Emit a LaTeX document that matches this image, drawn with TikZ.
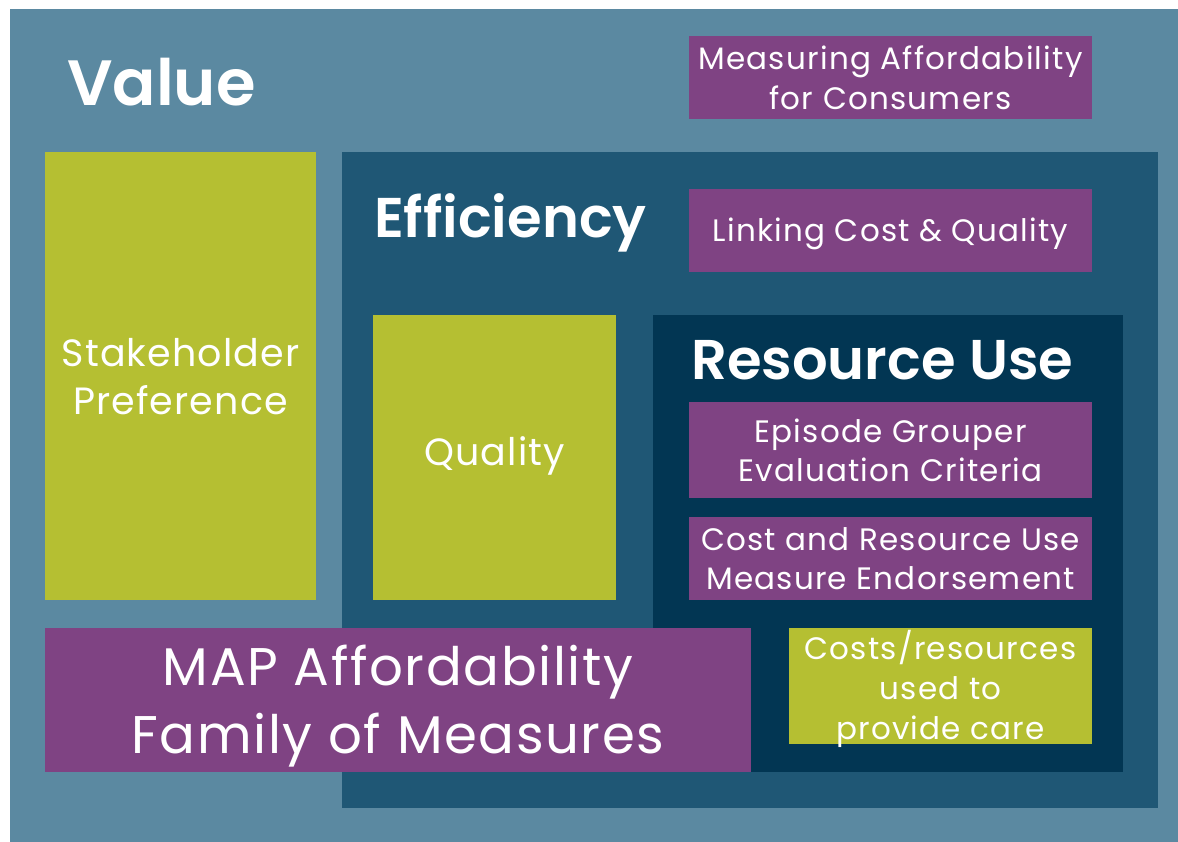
\documentclass[tikz,border=0pt]{standalone}
\usepackage{fontspec}
\setmainfont{Poppins}[BoldFont={Poppins SemiBold}]
\definecolor{outerc}{HTML}{5B89A1}
\definecolor{effc}{HTML}{1F5775}
\definecolor{resc}{HTML}{023653}
\definecolor{greenc}{HTML}{B5BF32}
\definecolor{purplec}{HTML}{7F4383}
\newcommand{\fsz}[3]{\fontsize{#1}{#2}\selectfont\addfontfeature{LetterSpace=#3}}
\tikzset{
  box/.style={inner sep=0pt, outer sep=0pt},
  pbox/.style={box, fill=purplec},
  gbox/.style={box, fill=greenc},
  txt/.style={inner sep=0pt, text=white, align=center},
  title/.style={inner sep=0pt, text=white, font=\bfseries\fontsize{#1}{#1}\selectfont},
}
\begin{document}
\begin{tikzpicture}[x=1pt,y=-1pt]
\useasboundingbox (0,0) rectangle (1178,842);
\fill[white] (0,0) rectangle (1178,842);
% outer value box
\fill[outerc] (10,9) rectangle (1178,842);
\node[title=64, anchor=base west] (value) at (67,106) {Value};
% efficiency box
\fill[effc] (342,152) rectangle (1158,808);
\node[title=56, anchor=base west] (eff) at (374,238) {Efficiency};
% resource use box
\fill[resc] (653,315) rectangle (1123,772);
\node[title=56, anchor=base west] (res) at (691,379) {Resource Use};
% purple boxes
\node[pbox, minimum width=403, minimum height=83] (afford) at (890.5,77.5) {};
\node[txt, font=\fsz{31}{40}{4}] (afford-t) at ([yshift=-0.5pt]afford.center) {Measuring Affordability\\for Consumers};
\node[pbox, minimum width=403, minimum height=83] (link) at (890.5,230.5) {};
\node[txt, font=\fsz{31}{40}{4}] (link-t) at ([yshift=-3pt]link.center) {Linking Cost \& Quality};
\node[pbox, minimum width=403, minimum height=96] (episode) at (890.5,450) {};
\node[txt, font=\fsz{31}{39}{4}] (episode-t) at (episode.center) {Episode Grouper\\Evaluation Criteria};
\node[pbox, minimum width=403, minimum height=83] (endorse) at (890.5,558.5) {};
\node[txt, font=\fsz{31}{39}{4}] (endorse-t) at (endorse.center) {Cost and Resource Use\\Measure Endorsement};
% green boxes
\node[gbox, minimum width=271, minimum height=448] (stake) at (180.5,376) {};
\node[txt, font=\fsz{38}{48}{3}] (stake-t) at ([yshift=-1pt]stake.center) {Stakeholder\\Preference};
\node[gbox, minimum width=243, minimum height=285] (quality) at (494.5,457.5) {};
\node[txt, font=\fsz{38}{48}{3}] (quality-t) at ([yshift=2pt]quality.center) {Quality};
\node[gbox, minimum width=303, minimum height=116] (costs) at (940.5,686) {};
\node[txt, font=\fsz{31}{40}{4}] (costs-t) at ([yshift=-3pt]costs.center) {Costs/resources\\used to\\provide care};
% MAP box
\node[pbox, minimum width=706, minimum height=144] (map) at (398,700) {};
\node[txt, font=\fsz{53}{68}{3}] (map-t) at ([yshift=-6pt]map.center) {MAP Affordability\\Family of Measures};
\end{tikzpicture}
\end{document}
